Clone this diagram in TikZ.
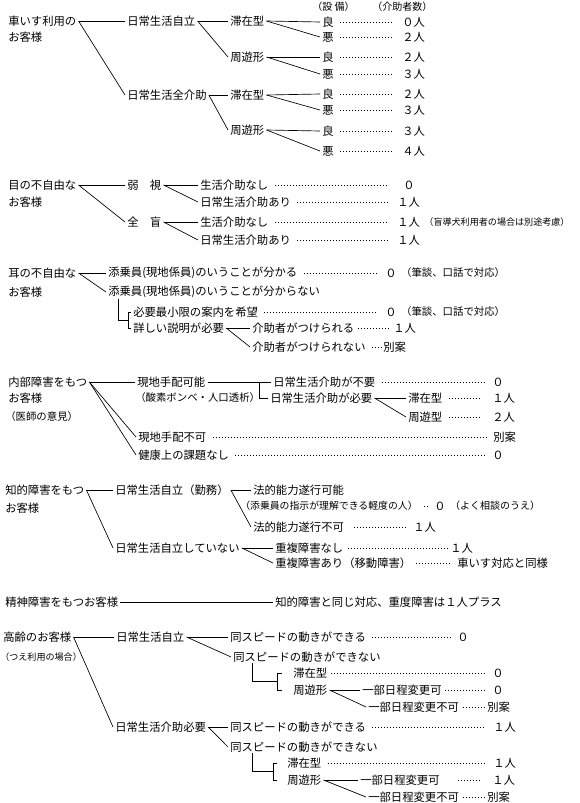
\documentclass[tikz,border=0pt]{standalone}
\usepackage{fontspec}
\newfontfamily\jp{Noto Sans CJK JP}
\usetikzlibrary{calc}
\tikzset{
  tx/.style={anchor=west, inner xsep=1.5pt, inner ysep=1pt, font=\jp\fontsize{8.5}{10}\selectfont},
  md/.style={tx, font=\jp\fontsize{7.8}{9}\selectfont},
  nw/.style={tx, font=\jp\fontsize{7.4}{9}\selectfont},
  sm/.style={tx, font=\jp\fontsize{6.8}{8}\selectfont},
  hd/.style={tx, font=\jp\fontsize{7.5}{9}\selectfont},
  ln/.style={line width=0.5pt},
  ld/.style={line width=0.65pt, dash pattern=on 0.65pt off 1.6pt, shorten <=3pt, shorten >=3pt},
}
\begin{document}
\begin{tikzpicture}[x=0.75pt, y=-0.75pt]
\useasboundingbox (0,0) rectangle (580,803);
\fill[white] (0,0) rectangle (580,803);

% ===== Section 1: wheelchair =====
\node[hd] (hA) at (310,7) {（設 備）};
\node[hd] (hB) at (370,7) {（介助者数）};
\node[tx] (w0) at (6,21) {車いす利用の};
\node[tx] (w0b) at (6,37) {お客様};
\node[tx] (w1) at (125,21) {日常生活自立};
\node[tx] (w2) at (125,95) {日常生活全介助};
\node[tx] (w11) at (228,21) {滞在型};
\node[tx] (w12) at (228,57) {周遊形};
\node[tx] (w21) at (228,95) {滞在型};
\node[tx] (w22) at (228,130) {周遊形};
\node[tx] (r1) at (320,22) {良};
\node[tx] (r2) at (320,37) {悪};
\node[tx] (r3) at (320,57) {良};
\node[tx] (r4) at (320,74) {悪};
\node[tx] (r5) at (320,94) {良};
\node[tx] (r6) at (320,110) {悪};
\node[tx] (r7) at (320,131) {良};
\node[tx] (r8) at (320,151) {悪};
\node[tx] (q1) at (400,22) {０人};
\node[tx] (q2) at (400,37) {２人};
\node[tx] (q3) at (400,57) {２人};
\node[tx] (q4) at (400,74) {３人};
\node[tx] (q5) at (400,94) {２人};
\node[tx] (q6) at (400,110) {３人};
\node[tx] (q7) at (400,131) {３人};
\node[tx] (q8) at (400,151) {４人};
\draw[ln] (w0.east) -- (w1.west);
\draw[ln] (w0.east) -- (w2.west);
\draw[ln] (w1.east) -- (w11.west);
\draw[ln] (w1.east) -- (w12.west);
\draw[ln] (w2.east) -- (w21.west);
\draw[ln] (w2.east) -- (w22.west);
\draw[ln] (w11.east) -- (r1.west);
\draw[ln] (w11.east) -- (r2.west);
\draw[ln] (w12.east) -- (r3.west);
\draw[ln] (w12.east) -- (r4.west);
\draw[ln] (w21.east) -- (r5.west);
\draw[ln] (w21.east) -- (r6.west);
\draw[ln] (w22.east) -- (r7.west);
\draw[ln] (w22.east) -- (r8.west);
\foreach \i in {1,...,8} {\draw[ld, shorten >=6pt] (r\i.east) -- (q\i.west);}

% ===== Section 2: eyes =====
\node[tx] (e0) at (6,185) {目の不自由な};
\node[tx] (e0b) at (6,202) {お客様};
\node[tx] (e1) at (125,185) {弱　視};
\node[tx] (e2) at (125,222) {全　盲};
\node[tx] (e11) at (198,185) {生活介助なし};
\node[tx] (e12) at (198,202) {日常生活介助あり};
\node[tx] (e21) at (198,222) {生活介助なし};
\node[tx] (e22) at (198,240) {日常生活介助あり};
\node[tx] (e11r) at (401,185) {０};
\node[tx] (e12r) at (395,202) {１人};
\node[tx] (e21r) at (395,222) {１人};
\node[sm] (e21n) at (e21r.east) {（盲導犬利用者の場合は別途考慮）};
\node[tx] (e22r) at (395,240) {１人};
\draw[ln] (e0.east) -- (e1.west);
\draw[ln] (e0.east) -- (e2.west);
\draw[ln] (e1.east) -- (e11.west);
\draw[ln] (e1.east) -- (e12.west);
\draw[ln] (e2.east) -- (e21.west);
\draw[ln] (e2.east) -- (e22.west);
\draw[ld, shorten >=10pt] (e11.east) -- (e11r.west);
\draw[ld, shorten >=5pt] (e12.east) -- (e12r.west);
\draw[ld, shorten >=5pt] (e21.east) -- (e21r.west);
\draw[ld, shorten >=5pt] (e22.east) -- (e22r.west);

% ===== Section 3: ears =====
\node[tx] (h0) at (6,273) {耳の不自由な};
\node[tx] (h0b) at (6,292) {お客様};
\node[tx] (h1) at (106,273) {添乗員(現地係員)のいうことが分かる};
\node[tx] (h2) at (106,292) {添乗員(現地係員)のいうことが分からない};
\node[tx] (h21) at (131,312) {必要最小限の案内を希望};
\node[tx] (h22) at (131,328) {詳しい説明が必要};
\node[tx] (h221) at (250,328) {介助者がつけられる};
\node[tx] (h222) at (250,347) {介助者がつけられない};
\node[tx] (h1r) at (383,273) {０};
\node[md] (h1n) at (h1r.east) {（筆談、口話で対応）};
\node[tx] (h21r) at (383,312) {０};
\node[md] (h21n) at (h21r.east) {（筆談、口話で対応）};
\node[tx] (h221r) at (391,328) {１人};
\node[tx] (h222r) at (381,347) {別案};
\coordinate (hb) at ($(h21.west)!0.5!(h22.west)+(-3,0)$);
\draw[ln] (h0.east) -- (h1.west);
\draw[ln] (h0.east) -- (h2.west);
\draw[ln] (h2.south west) ++(12,-1) |- (hb);
\draw[ln] (h21.west) -- ++(-3,0) |- (h22.west);
\draw[ln] (h22.east) -- (h221.west);
\draw[ln] (h22.east) -- (h222.west);
\draw[ld, shorten >=4pt] (h1.east) -- (h1r.west);
\draw[ld, shorten >=4pt] (h21.east) -- (h21r.west);
\draw[ld, shorten <=1pt, shorten >=0.5pt] (h221.east) -- (h221r.west);
\draw[ld, shorten <=3pt, shorten >=0pt] (h222.east) -- (h222r.west);

% ===== Section 4: internal =====
\node[tx] (n0) at (6,382) {内部障害をもつ};
\node[tx] (n0b) at (6,398) {お客様};
\node[md] (n0c) at (3,417) {（医師の意見）};
\node[tx] (n1) at (135,382) {現地手配可能};
\node[md] (n1b) at (133,398) {（酸素ボンベ・人口透析）};
\node[tx] (n11) at (271,382) {日常生活介助が不要};
\node[tx] (n12) at (268,398) {日常生活介助が必要};
\node[tx] (n121) at (406,398) {滞在型};
\node[tx] (n122) at (406,417) {周遊型};
\node[tx] (n2) at (136,437) {現地手配不可};
\node[tx] (n3) at (136,455) {健康上の課題なし};
\node[tx] (n11r) at (490,382) {０};
\node[tx] (n121r) at (490,398) {１人};
\node[tx] (n122r) at (490,417) {２人};
\node[tx] (n2r) at (491,437) {別案};
\node[tx] (n3r) at (490,455) {０};
\draw[ln] (n0.east) -- (n1.west);
\draw[ln] (n0.east) -- (n2.west);
\draw[ln] (n0.east) -- (n3.west);
\draw[ln] (n1.east) -- (n11.west);
\draw[ln] (n12.west) -- ++(-9,0) |- (n11.west);
\draw[ln] (n12.east) -- (n121.west);
\draw[ln] (n12.east) -- (n122.west);
\draw[ld] (n11.east) -- (n11r.west);
\draw[ld, shorten >=7pt] (n121.east) -- (n121r.west);
\draw[ld, shorten >=7pt] (n122.east) -- (n122r.west);
\draw[ld] (n2.east) -- (n2r.west);
\draw[ld] (n3.east) -- (n3r.west);

% ===== Section 5: intellectual =====
\node[tx] (k0) at (3,490) {知的障害をもつ};
\node[tx] (k0b) at (3,508) {お客様};
\node[tx] (k1) at (113,490) {日常生活自立（勤務）};
\node[tx] (k2) at (113,548) {日常生活自立していない};
\node[tx] (k11) at (251,490) {法的能力遂行可能};
\node[nw] (k11b) at (238,506) {（添乗員の指示が理解できる軽度の人）};
\node[tx] (k12) at (251,527) {法的能力遂行不可};
\node[tx] (k21) at (273,548) {重複障害なし};
\node[tx] (k22) at (273,563) {重複障害あり（移動障害）};
\node[tx] (k11r) at (432,506) {０};
\node[hd] (k11n) at (k11r.east) {（よく相談のうえ）};
\node[tx] (k12r) at (411,527) {１人};
\node[tx] (k21r) at (448,548) {１人};
\node[tx] (k22r) at (455,563) {車いす対応と同様};
\draw[ln] (k0.east) -- (k1.west);
\draw[ln] (k0.east) -- (k2.west);
\draw[ln] (k1.east) -- (k11.west);
\draw[ln] (k1.east) -- (k12.west);
\draw[ln] (k2.east) -- (k21.west);
\draw[ln] (k2.east) -- (k22.west);
\draw[ld, shorten <=3pt, shorten >=2pt] (k11b.east) -- (k11r.west);
\draw[ld, shorten <=6pt, shorten >=4pt] (k12.east) -- (k12r.west);
\draw[ld, shorten <=2pt, shorten >=0pt] (k21.east) -- (k21r.west);
\draw[ld, shorten <=2pt, shorten >=4pt] (k22.east) -- (k22r.west);

% ===== Section 6: psychiatric =====
\node[tx] (p0) at (3,602) {精神障害をもつお客様};
\node[tx] (p1) at (273,602) {知的障害と同じ対応、重度障害は１人プラス};
\draw[ln] (p0.east) -- (p1.west);

% ===== Section 7: elderly =====
\node[tx] (g0) at (1,637) {高齢のお客様};
\node[sm] (g0b) at (-2,657) {（つえ利用の場合）};
\node[tx] (g1) at (114,637) {日常生活自立};
\node[tx] (g2) at (113,727) {日常生活介助必要};
\node[tx] (g11) at (228,637) {同スピードの動きができる};
\node[tx] (g12) at (231,657) {同スピードの動きができない};
\node[tx] (g121) at (291,673) {滞在型};
\node[tx] (g122) at (291,690) {周遊形};
\node[tx] (g1221) at (360,690) {一部日程変更可};
\node[tx] (g1222) at (366,707) {一部日程変更不可};
\node[tx] (g21) at (228,727) {同スピードの動きができる};
\node[tx] (g22) at (228,747) {同スピードの動きができない};
\node[tx] (g221) at (285,763) {滞在型};
\node[tx] (g222) at (285,780) {周遊形};
\node[tx] (g2221) at (358,780) {一部日程変更可};
\node[tx] (g2222) at (366,797) {一部日程変更不可};
\node[tx] (g11r) at (455,637) {０};
\node[tx] (g121r) at (490,673) {０};
\node[tx] (g1221r) at (490,690) {０};
\node[tx] (g1222r) at (485,707) {別案};
\node[tx] (g21r) at (491,727) {１人};
\node[tx] (g221r) at (491,763) {１人};
\node[tx] (g2221r) at (490,780) {１人};
\node[tx] (g2222r) at (485,797) {別案};
\coordinate (gb1) at ($(g121.west)!0.5!(g122.west)+(-14,0)$);
\coordinate (gb2) at ($(g221.west)!0.5!(g222.west)+(-12,0)$);
\draw[ln] (g0.east) -- (g1.west);
\draw[ln] (g0.east) -- (g2.west);
\draw[ln] (g1.east) -- (g11.west);
\draw[ln] (g1.east) -- (g12.west);
\draw[ln] (g12.south west) ++(21,-1) |- (gb1);
\draw[ln] ($(g121.west)+(-9,0)$) -- ++(-5,0) |- ($(g122.west)+(-9,0)$);
\draw[ln] (g122.east) -- (g1221.west);
\draw[ln] (g122.east) -- (g1222.west);
\draw[ln] (g2.east) -- (g21.west);
\draw[ln] (g2.east) -- (g22.west);
\draw[ln] (g22.south west) ++(24,-1) |- (gb2);
\draw[ln] ($(g221.west)+(-8,0)$) -- ++(-4,0) |- ($(g222.west)+(-8,0)$);
\draw[ln] (g222.east) -- (g2221.west);
\draw[ln] (g222.east) -- (g2222.west);
\draw[ld] (g11.east) -- (g11r.west);
\draw[ld, shorten <=1pt] (g121.east) -- (g121r.west);
\draw[ld, shorten <=1pt] (g1221.east) -- (g1221r.west);
\draw[ld, shorten <=1pt, shorten >=1pt] (g1222.east) -- (g1222r.west);
\draw[ld, shorten >=5pt] (g21.east) -- (g21r.west);
\draw[ld, shorten >=5pt] (g221.east) -- (g221r.west);
\draw[ld, shorten <=12pt, shorten >=8pt] (g2221.east) -- (g2221r.west);
\draw[ld, shorten <=1pt, shorten >=1pt] (g2222.east) -- (g2222r.west);
\end{tikzpicture}
\end{document}
